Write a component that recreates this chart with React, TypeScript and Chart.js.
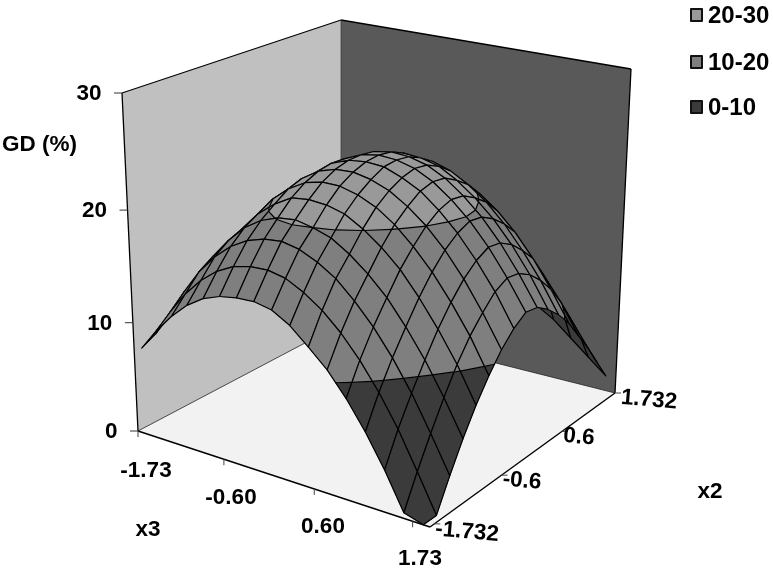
import React, { useEffect, useRef } from "react";
import { Chart, registerables } from "chart.js";

Chart.register(...registerables);

const x3Ticks = ["-1.73", "-0.60", "0.60", "1.73"];
const x2Ticks = ["-1.732", "-0.6", "0.6", "1.732"];
const zTicks = [0, 10, 20, 30];
const bands = ["20-30", "10-20", "0-10"];

// GD (%) read from the surface; each row is one x2 step (front to back), each column one x3 step
const gd00 = [7.9, 9.9, 11.6, 13.0, 14.0, 14.6, 14.9, 15.0, 14.7, 13.8, 12.4, 10.9, 8.9, 6.5, 3.7, 0.5, 0.0];
const gd01 = [8.6, 11.0, 13.0, 14.6, 15.8, 16.6, 17.0, 17.1, 16.8, 16.0, 14.9, 13.4, 11.5, 9.2, 6.5, 3.3, 0.0];
const gd02 = [9.6, 12.2, 14.4, 16.1, 17.4, 18.3, 18.8, 19.0, 18.7, 18.0, 17.0, 15.5, 13.7, 11.5, 8.9, 5.9, 2.7];
const gd03 = [10.4, 13.0, 15.2, 17.0, 18.5, 19.5, 20.1, 20.3, 20.0, 19.5, 18.5, 17.2, 15.6, 13.5, 11.1, 8.3, 5.2];
const gd04 = [11.0, 13.4, 15.5, 17.5, 19.2, 20.4, 21.3, 21.5, 21.4, 21.0, 20.1, 18.9, 17.4, 15.4, 13.1, 10.5, 7.4];
const gd05 = [11.5, 13.7, 15.9, 18.1, 19.9, 21.2, 22.1, 22.5, 22.5, 22.1, 21.4, 20.3, 18.8, 17.0, 14.8, 12.3, 9.3];
const gd06 = [11.5, 13.7, 16.0, 18.3, 20.1, 21.6, 22.6, 23.1, 23.2, 22.9, 22.3, 21.3, 20.0, 18.3, 16.2, 13.7, 10.9];
const gd07 = [11.1, 13.3, 15.8, 18.1, 20.1, 21.6, 22.8, 23.4, 23.6, 23.5, 22.9, 22.1, 20.8, 19.2, 17.2, 14.9, 12.1];
const gd08 = [10.5, 12.9, 15.4, 17.8, 19.9, 21.5, 22.7, 23.4, 23.7, 23.6, 23.2, 22.4, 21.2, 19.7, 17.8, 15.5, 12.9];
const gd09 = [10.3, 12.6, 15.2, 17.6, 19.7, 21.3, 22.5, 23.2, 23.5, 23.4, 23.0, 22.2, 21.0, 19.5, 17.6, 15.3, 12.7];
const gd10 = [10.0, 12.3, 14.8, 17.2, 19.2, 20.8, 22.0, 22.7, 22.9, 22.8, 22.4, 21.5, 20.3, 18.8, 16.9, 14.6, 11.9];
const gd11 = [9.4, 11.7, 14.1, 16.5, 18.5, 20.1, 21.2, 21.8, 22.1, 22.0, 21.5, 20.6, 19.4, 17.8, 15.8, 13.5, 10.8];
const gd12 = [8.4, 10.7, 13.1, 15.5, 17.4, 19.0, 20.1, 20.7, 20.9, 20.7, 20.2, 19.3, 18.1, 16.5, 14.5, 12.1, 9.4];
const gd13 = [7.6, 10.3, 12.6, 14.5, 16.1, 17.3, 18.3, 18.7, 18.9, 18.7, 18.2, 17.2, 16.0, 14.5, 12.5, 10.3, 7.6];
const gd14 = [5.8, 8.3, 10.5, 12.4, 13.9, 15.1, 15.9, 16.5, 16.5, 16.4, 15.7, 14.8, 13.7, 12.3, 10.4, 8.2, 5.8];
const gd15 = [3.6, 6.0, 8.0, 9.5, 10.8, 11.9, 12.7, 13.1, 13.2, 12.9, 12.3, 11.3, 10.4, 9.6, 8.0, 6.0, 3.8];
const gd16 = [1.2, 3.0, 4.5, 5.5, 6.5, 7.2, 7.8, 8.3, 8.5, 8.4, 8.2, 7.6, 7.0, 6.0, 4.6, 3.2, 1.8];
const gdRows = [gd00, gd01, gd02, gd03, gd04, gd05, gd06, gd07, gd08, gd09, gd10, gd11, gd12, gd13, gd14, gd15, gd16];

type P = [number, number];
type Quad = [P, P, P, P];
const FLOOR: Quad = [[138, 431], [430, 527], [615, 393], [341, 324]];
const TOP: Quad = [[122, 93], [434, 165], [631, 69], [341, 20]];
const Z_MAX = 30;
const PERSP = -0.057;

function homography(q: Quad, u: number, v: number): P {
  const [A, B, C, D] = q;
  const dx1 = B[0] - C[0], dx2 = D[0] - C[0], sx = A[0] - B[0] + C[0] - D[0];
  const dy1 = B[1] - C[1], dy2 = D[1] - C[1], sy = A[1] - B[1] + C[1] - D[1];
  const det = dx1 * dy2 - dx2 * dy1;
  const g = (sx * dy2 - dx2 * sy) / det;
  const h = (dx1 * sy - sx * dy1) / det;
  const w = g * u + h * v + 1;
  return [
    ((B[0] - A[0] + g * B[0]) * u + (D[0] - A[0] + h * D[0]) * v + A[0]) / w,
    ((B[1] - A[1] + g * B[1]) * u + (D[1] - A[1] + h * D[1]) * v + A[1]) / w,
  ];
}

function project(u: number, v: number, z: number): P {
  const f = homography(FLOOR, u, v);
  const t = homography(TOP, u, v);
  const n = z / Z_MAX;
  const k = (n * (1 + PERSP)) / (1 + PERSP * n);
  return [f[0] + (t[0] - f[0]) * k, f[1] + (t[1] - f[1]) * k];
}

const gridU = (i: number) => 0.03 + (0.95 * i) / 16;
const gridV = (j: number) => (0.975 * j) / 16;

type V = { u: number; v: number; z: number };

function clipBand(poly: V[], level: number, keepAbove: boolean): V[] {
  const out: V[] = [];
  const inside = (p: V) => (keepAbove ? p.z >= level : p.z <= level);
  for (let k = 0; k < poly.length; k++) {
    const a = poly[k];
    const b = poly[(k + 1) % poly.length];
    if (inside(a)) out.push(a);
    if (inside(a) !== inside(b)) {
      const t = (level - a.z) / (b.z - a.z);
      out.push({ u: a.u + (b.u - a.u) * t, v: a.v + (b.v - a.v) * t, z: level });
    }
  }
  return out;
}

const BAND_FILL = [
  { lo: 0, hi: 10, color: "#3b3b3b" },
  { lo: 10, hi: 20, color: "#7f7f7f" },
  { lo: 20, hi: 30, color: "#999999" },
];
const FONT = '"Liberation Sans", Arial, sans-serif';

const surfacePlugin = {
  id: "surface3d",
  beforeDatasetsDraw(chart: any) {
    const { ctx, scales } = chart;
    const px = (p: P): P => [scales.x.getPixelForValue(p[0]), scales.y.getPixelForValue(p[1])];
    const pr = (u: number, v: number, z: number) => px(project(u, v, z));
    const path = (pts: P[]) => {
      ctx.beginPath();
      pts.forEach((p, k) => (k ? ctx.lineTo(p[0], p[1]) : ctx.moveTo(p[0], p[1])));
      ctx.closePath();
    };
    const line = (a: P, b: P, w: number, c = "#000") => {
      ctx.strokeStyle = c;
      ctx.lineWidth = w;
      ctx.beginPath();
      ctx.moveTo(a[0], a[1]);
      ctx.lineTo(b[0], b[1]);
      ctx.stroke();
    };
    const text = (s: string, x: number, y: number, size: number, rot = 0, align = "center") => {
      ctx.save();
      ctx.translate(x, y);
      ctx.rotate(rot);
      ctx.fillStyle = "#000";
      ctx.font = `bold ${size}px ${FONT}`;
      ctx.textAlign = align;
      ctx.textBaseline = "middle";
      ctx.fillText(s, 0, 0);
      ctx.restore();
    };
    ctx.save();
    ctx.lineJoin = "round";

    // walls and floor
    const fl = FLOOR.map(px);
    const tp = TOP.map(px);
    ctx.fillStyle = "#f2f2f2";
    path(fl);
    ctx.fill();
    ctx.fillStyle = "#c0c0c0";
    path([fl[0], fl[3], tp[3], tp[0]]);
    ctx.fill();
    ctx.fillStyle = "#595959";
    path([fl[3], fl[2], tp[2], tp[3]]);
    ctx.fill();
    line(fl[0], tp[0], 1.3);
    line(tp[0], tp[3], 1.3);
    line(tp[3], tp[2], 1.3);
    line(tp[2], fl[2], 1.3);
    line(fl[3], tp[3], 0.7, "#333");
    line(fl[0], fl[3], 0.8, "#222");
    line(fl[3], fl[2], 0.8, "#222");
    line(fl[0], fl[1], 1.4);
    line(fl[1], fl[2], 1.4);

    // axis ticks
    zTicks.forEach((t) => {
      const p = pr(0, 0, t);
      line([p[0] - 8, p[1]], p, 1, "#333");
      text(String(t), p[0] - 20.5, p[1] + 1, 22.5, 0, "right");
    });
    const tickFrac = [0, 5 / 16, 10 / 16, 15 / 16];
    tickFrac.forEach((t) => {
      const a = pr(t + (t ? 0.01 : 0), 0, 0);
      line(a, [a[0], a[1] + 6], 1, "#444");
    });
    [0.02, 0.35, 0.68, 1].forEach((t) => {
      const a = pr(1, t, 0);
      line(a, [a[0] + 6, a[1]], 1, "#444");
    });
    const x3Pos: P[] = [[146, 471], [231, 498], [323, 527], [420, 559]];
    x3Ticks.forEach((s, k) => text(s, x3Pos[k][0], x3Pos[k][1], 22.5));
    const x2Pos: P[] = [[467, 532], [522, 481], [579, 437], [649, 400]];
    x2Ticks.forEach((s, k) => text(s, x2Pos[k][0], x2Pos[k][1], 22.5, 0.09));
    text("x3", 148, 530, 22.5);
    text("x2", 710, 492, 22.5);
    text("GD (%)", 39.5, 145, 22.5);

    // surface, far corner first
    const rows = chart.data.datasets[0].gdRows as number[][];
    for (let j = rows.length - 2; j >= 0; j--) {
      for (let i = 0; i < rows[j].length - 1; i++) {
        const corners: V[] = [
          { u: gridU(i), v: gridV(j), z: rows[j][i] },
          { u: gridU(i + 1), v: gridV(j), z: rows[j][i + 1] },
          { u: gridU(i + 1), v: gridV(j + 1), z: rows[j + 1][i + 1] },
          { u: gridU(i), v: gridV(j + 1), z: rows[j + 1][i] },
        ];
        const scr = corners.map((c) => pr(c.u, c.v, c.z));
        let area = 0;
        scr.forEach((p, k) => {
          const q = scr[(k + 1) % 4];
          area += p[0] * q[1] - q[0] * p[1];
        });
        const under = area > 0;
        const contours: [P, P][] = [];
        BAND_FILL.forEach((b) => {
          let poly = clipBand(corners, b.lo, true);
          if (poly.length) poly = clipBand(poly, b.hi, false);
          if (poly.length < 3) return;
          const pts = poly.map((c) => pr(c.u, c.v, c.z));
          const color = under ? "#3b3b3b" : b.color;
          path(pts);
          ctx.fillStyle = color;
          ctx.strokeStyle = color;
          ctx.lineWidth = 0.6;
          ctx.fill();
          ctx.stroke();
          poly.forEach((c, k) => {
            const d = poly[(k + 1) % poly.length];
            if (c.z === b.hi && d.z === b.hi && b.hi < 30) contours.push([pts[k], pts[(k + 1) % pts.length]]);
          });
        });
        path(scr);
        ctx.strokeStyle = "#000";
        ctx.lineWidth = 1.2;
        ctx.stroke();
        contours.forEach(([a, b]) => line(a, b, 1.2, "#000"));
      }
    }

    // legend
    const legendRows = [15, 62, 107];
    bands.forEach((s, k) => {
      const y = scales.y.getPixelForValue(legendRows[k]);
      const x = scales.x.getPixelForValue(690);
      ctx.fillStyle = BAND_FILL[2 - k].color;
      ctx.strokeStyle = "#111";
      ctx.lineWidth = 2;
      ctx.fillRect(x + 1, y - 6, 11, 12);
      ctx.strokeRect(x + 1, y - 6, 11, 12);
      text(s, x + 18, y + 1, 24, 0, "left");
    });
    ctx.restore();
  },
};

export default function App() {
  const ref = useRef<HTMLCanvasElement>(null);
  useEffect(() => {
    document.body.style.margin = "0";
    const points: { x: number; y: number }[] = [];
    gdRows.forEach((row, j) =>
      row.forEach((z, i) => {
        const p = project(gridU(i), gridV(j), z);
        points.push({ x: p[0], y: p[1] });
      })
    );
    const chart = new Chart(ref.current!, {
      type: "scatter",
      data: {
        datasets: [{ label: "GD (%)", data: points, pointRadius: 0, gdRows } as any],
      },
      options: {
        animation: false,
        responsive: false,
        layout: { padding: 0 },
        plugins: { legend: { display: false }, tooltip: { enabled: false } },
        scales: {
          x: { type: "linear", min: 0, max: 773, display: false },
          y: { type: "linear", min: 0, max: 572, reverse: true, display: false },
        },
      },
      plugins: [surfacePlugin],
    });
    return () => chart.destroy();
  }, []);
  return <canvas ref={ref} width={773} height={572} style={{ display: "block" }} />;
}
